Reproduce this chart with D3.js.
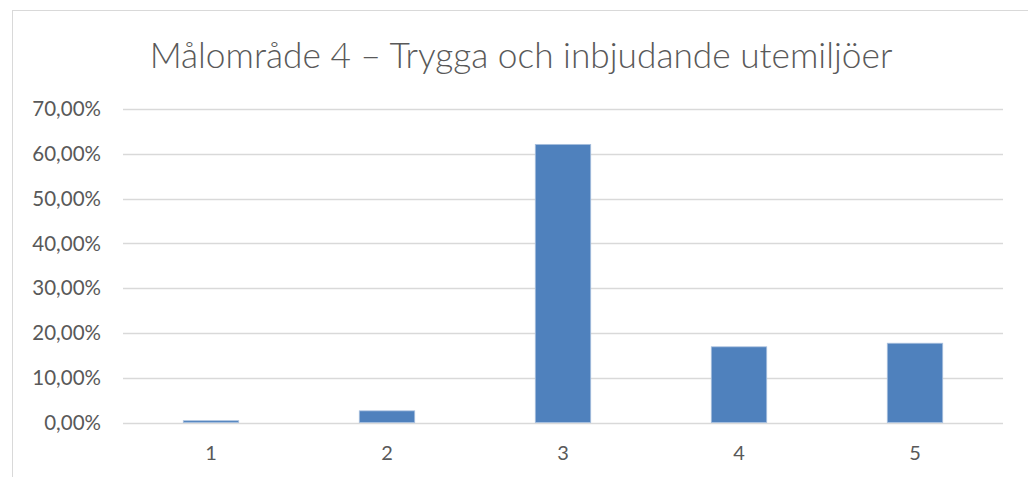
<!DOCTYPE html>
<html>
<head>
<meta charset="utf-8">
<script src="https://cdn.jsdelivr.net/npm/d3@7"></script>
<style>
  body { margin: 0; background: #fff; }
  text { font-family: Lato, 'Open Sans', sans-serif; fill: #595959; }
</style>
</head>
<body>
<div id="chart"></div>
<script>
let categories = ['1', '2', '3', '4', '5']
let values = [0.004, 0.026, 0.621, 0.169, 0.177]
let yTicks = [0, 0.1, 0.2, 0.3, 0.4, 0.5, 0.6, 0.7]
let title = 'Målområde 4 – Trygga och inbjudande utemiljöer'

let width = 1028
let height = 477
let margin = { top: 109, left: 123, right: 25, bottom: 55 }

let svg = d3.select('#chart')
  .append('svg')
  .attr('width', width)
  .attr('height', height)

// chart frame (continues past the picture edge)
svg.append('rect')
  .attr('x', 12.5)
  .attr('y', 10.5)
  .attr('width', width + 20)
  .attr('height', height + 20)
  .attr('fill', 'none')
  .attr('stroke', '#d9d9d9')

let xScale = d3.scaleBand()
  .domain(categories)
  .range([margin.left, width - margin.right])
  .paddingInner(0.685)
  .paddingOuter(0.3425)

let yScale = d3.scaleLinear()
  .domain([0, 0.7])
  .range([422.5, margin.top])

let fmt = d => d3.format('.2f')(d * 100).replace('.', ',') + '%'

// gridlines
svg.selectAll('.grid')
  .data(yTicks)
  .enter()
  .append('line')
  .attr('class', 'grid')
  .attr('x1', margin.left)
  .attr('x2', width - margin.right)
  .attr('y1', d => Math.round(yScale(d)) + 0.5)
  .attr('y2', d => Math.round(yScale(d)) + 0.5)
  .attr('stroke', '#d9d9d9')
  .attr('stroke-width', 1.3)

// y labels
svg.selectAll('.ylabel')
  .data(yTicks)
  .enter()
  .append('text')
  .attr('class', 'ylabel')
  .attr('x', 101)
  .attr('y', d => yScale(d))
  .attr('dy', '0.35em')
  .attr('text-anchor', 'end')
  .attr('font-size', 20.5)
  .text(fmt)

// bars
svg.selectAll('.bar')
  .data(values)
  .enter()
  .append('rect')
  .attr('class', 'bar')
  .attr('x', (d, i) => xScale(categories[i]))
  .attr('width', xScale.bandwidth())
  .attr('y', d => yScale(d))
  .attr('height', d => yScale(0) - yScale(d))
  .attr('fill', '#4f81bd')
  .attr('stroke', '#a9c0de')
  .attr('stroke-width', 0.8)

// x labels
svg.selectAll('.xlabel')
  .data(categories)
  .enter()
  .append('text')
  .attr('class', 'xlabel')
  .attr('x', d => xScale(d) + xScale.bandwidth() / 2)
  .attr('y', 453)
  .attr('dy', '0.35em')
  .attr('text-anchor', 'middle')
  .attr('font-size', 20)
  .text(d => d)

// title
let t = svg.append('text')
  .attr('x', 521)
  .attr('y', 68)
  .attr('text-anchor', 'middle')
  .attr('font-size', 34)
  .attr('font-weight', 300)
  .text(title)

let len = t.node().getComputedTextLength()
t.attr('font-size', 34 * 743 / len)
</script>
</body>
</html>
